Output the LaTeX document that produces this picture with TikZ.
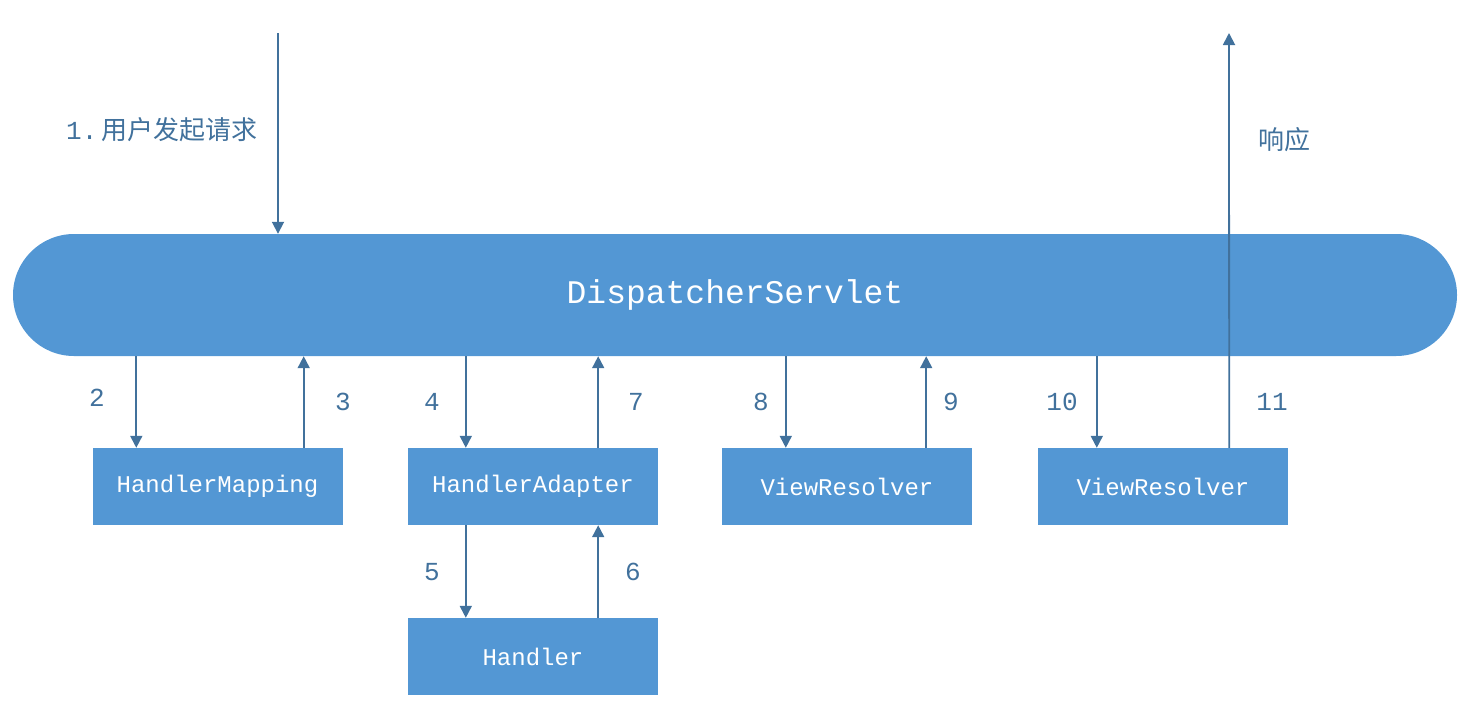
\documentclass[tikz,border=0pt]{standalone}
\usepackage{fontspec}
\newfontfamily\codefont{Liberation Mono}
\newfontfamily\cjkfont{Noto Sans CJK SC}
\usetikzlibrary{arrows.meta}
\definecolor{boxblue}{RGB}{83,151,212}
\definecolor{lineblue}{RGB}{65,113,156}
\tikzset{
  box/.style={shape=rectangle,fill=boxblue,draw=none,minimum width=250,minimum height=77,
    inner sep=0,text=white,font=\codefont\fontsize{24}{28}\selectfont},
  flow/.style={draw=lineblue,line width=1.8,-{Triangle[width=12,length=12]}},
  num/.style={text=lineblue,font=\codefont\fontsize{26}{30}\selectfont},
  cjk/.style={text=lineblue,font=\cjkfont\fontsize{26}{30}\selectfont}
}
\begin{document}
\begin{tikzpicture}[x=1pt,y=-1pt]
\useasboundingbox (0,0) rectangle (1476,724);
\node[shape=rectangle,rounded corners=61,fill=boxblue,minimum width=1444,minimum height=122,
  inner sep=0,text=white,font=\codefont\fontsize{33}{38}\selectfont] (ds) at (735,295) {DispatcherServlet};
\node[box] (hm) at (217.5,486.5) {HandlerMapping};
\node[box] (ha) at (533,486.5) {HandlerAdapter};
\node[box] (vr1) at (847,486.5) {ViewResolver};
\node[box] (vr2) at (1163,486.5) {ViewResolver};
\node[box] (h) at (533,656.5) {Handler};
% arrow feet
\coordinate (req) at (278,33);
\coordinate (resp) at (1229,33);
\coordinate (f2) at ([xshift=44]hm.north west);
\coordinate (f3) at ([xshift=-39]hm.north east);
\coordinate (f4) at ([xshift=58]ha.north west);
\coordinate (f7) at ([xshift=-60]ha.north east);
\coordinate (f5) at ([xshift=58]h.north west);
\coordinate (f6) at ([xshift=-60]h.north east);
\coordinate (f8) at ([xshift=64]vr1.north west);
\coordinate (f9) at ([xshift=-46]vr1.north east);
\coordinate (f10) at ([xshift=59]vr2.north west);
\coordinate (f11) at ([xshift=-59]vr2.north east);
\draw[flow] (req) -- (req |- ds.north);
\draw[flow] (f2 |- ds.south) -- (f2);
\draw[flow] (f3) -- (f3 |- ds.south);
\draw[flow] (f4 |- ds.south) -- (f4);
\draw[flow] (f7) -- (f7 |- ds.south);
\draw[flow] (f5 |- ha.south) -- (f5);
\draw[flow] (f6) -- (f6 |- ha.south);
\draw[flow] (f8 |- ds.south) -- (f8);
\draw[flow] (f9) -- (f9 |- ds.south);
\draw[flow] (f10 |- ds.south) -- (f10);
\draw[flow] (f11) -- (resp);
% labels
\node[cjk] (l1) at (162,130) {{\codefont 1.}\,用户发起请求};
\node[cjk] (l11b) at (1284,140) {响应};
\node[num] (l2) at (97,398) {2};
\node[num] (l3) at (343,402) {3};
\node[num] (l4) at (432,402) {4};
\node[num] (l7) at (636,402) {7};
\node[num] (l5) at (432,572) {5};
\node[num] (l6) at (633,572) {6};
\node[num] (l8) at (761,402) {8};
\node[num] (l9) at (951,402) {9};
\node[num] (l10) at (1062,402) {10};
\node[num] (l11) at (1272,402) {11};
\end{tikzpicture}
\end{document}
